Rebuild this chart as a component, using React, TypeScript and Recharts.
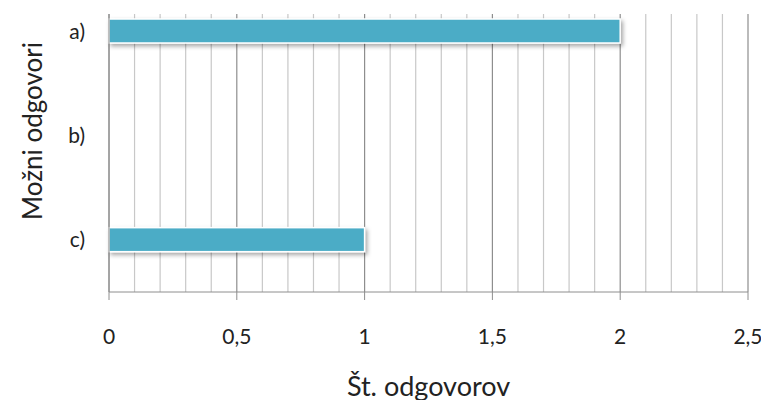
import * as React from "react";
import { BarChart, Bar, XAxis, YAxis, CartesianGrid } from "recharts";

// answer options and how many answers each got
const categories = ["a)", "b)", "c)"];
const counts = [2, 0, 1];

const xTicks = [0, 0.5, 1, 1.5, 2, 2.5];
const minorGrid = [
  0.1, 0.2, 0.3, 0.4, 0.6, 0.7, 0.8, 0.9, 1.1, 1.2, 1.3, 1.4, 1.6, 1.7, 1.8,
  1.9, 2.1, 2.2, 2.3, 2.4,
];
const X_MAX = 2.5;

const chart_data = categories.map((name, i) => ({ name, value: counts[i] }));

const FONT = "Lato, 'Open Sans', sans-serif";
const BAR_COLOR = "#4BACC6";
const AXIS_COLOR = "#8e8e8e";

function ShadowBar(props: any) {
  const { x, y, width, height } = props;
  if (!width || width <= 0) return null;
  return (
    <g>
      <defs>
        <filter id="barShadow" x="-10%" y="-50%" width="120%" height="200%">
          <feDropShadow dx="2" dy="2.5" stdDeviation="2" floodColor="#000" floodOpacity="0.35" />
        </filter>
      </defs>
      <rect
        x={x}
        y={y}
        width={width}
        height={height}
        fill={BAR_COLOR}
        stroke="#fff"
        strokeWidth={1.5}
        filter="url(#barShadow)"
      />
    </g>
  );
}

// grid lines at the minor values, through the x axis scale
const minorLines = (args: any) => {
  const s = args?.xAxis?.scale;
  if (typeof s === "function") return minorGrid.map((v) => s(v));
  if (s && typeof s.map === "function") return minorGrid.map((v) => s.map(v));
  const o = args.offset;
  return minorGrid.map((v) => o.left + (v / X_MAX) * o.width);
};

export default function App() {
  return (
    <div style={{ width: 769, height: 408, margin: -8, background: "#fff" }}>
      <BarChart
        width={769}
        height={408}
        data={chart_data}
        layout="vertical"
        margin={{ top: 14, right: 21, bottom: 0, left: 0 }}
      >
        <CartesianGrid
          horizontal={false}
          stroke="#c8c8c8"
          strokeWidth={1.2}
          verticalCoordinatesGenerator={minorLines}
        />
        <CartesianGrid horizontal={false} stroke={AXIS_COLOR} strokeWidth={1.2} />
        <XAxis
          type="number"
          domain={[0, X_MAX]}
          ticks={xTicks}
          interval={0}
          height={116}
          tickSize={8}
          tickMargin={29}
          stroke={AXIS_COLOR}
          tick={{ fill: "#222", fontSize: 21, fontFamily: FONT }}
          tickFormatter={(v: number) => String(v).replace(".", ",")}
          label={{
            content: (p: any) => {
              const vb = p.viewBox || {};
              return (
                <text
                  x={vb.x + vb.width / 2}
                  y={396}
                  textAnchor="middle"
                  fontSize={27}
                  fontFamily={FONT}
                  fill="#222"
                >
                  Št. odgovorov
                </text>
              );
            },
          }}
        />
        <YAxis
          type="category"
          dataKey="name"
          width={109}
          padding={{ top: -35, bottom: 0 }}
          tickLine={false}
          tickSize={0}
          tickMargin={24}
          stroke={AXIS_COLOR}
          tick={{ fill: "#222", fontSize: 21, fontFamily: FONT }}
          label={{
            content: () => (
              <text
                x={0}
                y={0}
                transform="translate(42 131) rotate(-90)"
                textAnchor="middle"
                fontSize={26}
                fontFamily={FONT}
                fill="#222"
              >
                Možni odgovori
              </text>
            ),
          }}
        />
        <Bar dataKey="value" barSize={24} shape={ShadowBar} isAnimationActive={false} />
      </BarChart>
    </div>
  );
}
